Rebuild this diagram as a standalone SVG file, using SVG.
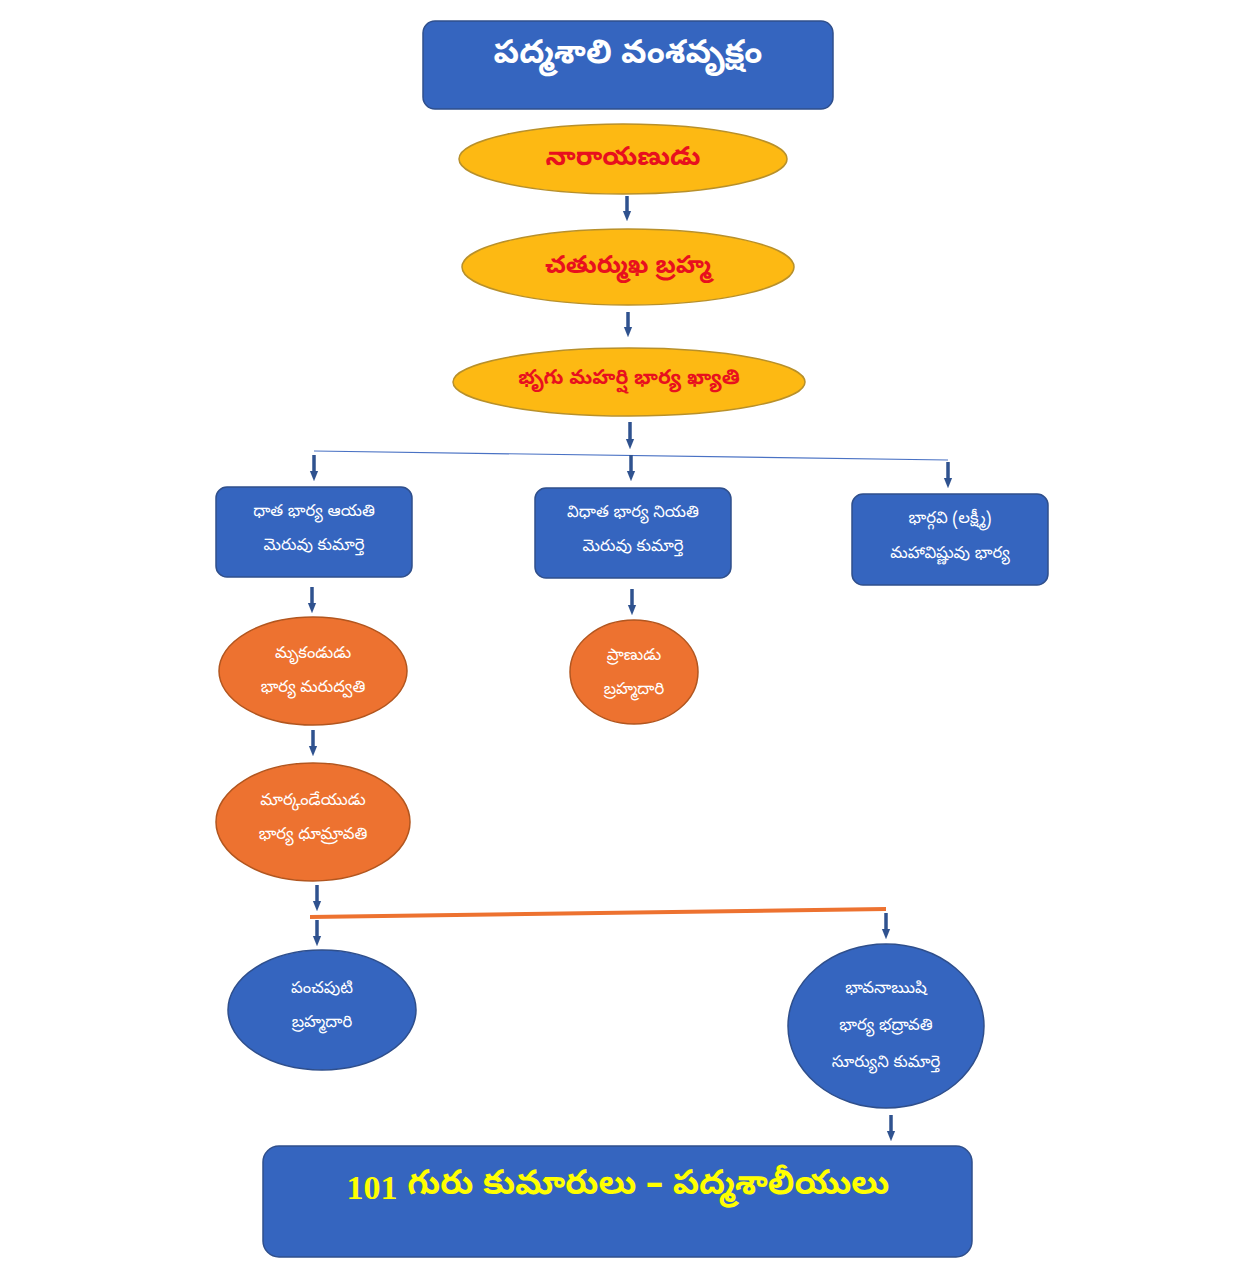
<svg xmlns="http://www.w3.org/2000/svg" width="1258" height="1280" viewBox="0 0 1258 1280">
<defs>
<marker id="ah" viewBox="0 0 10 10" refX="5" refY="5" markerWidth="3" markerHeight="3" orient="auto" markerUnits="strokeWidth">
<path d="M0,1 L10,5 L0,9 z" fill="#2F528F"/>
</marker>
<style>
.t{font-family:"Noto Sans Telugu","Noto Sans",sans-serif;text-anchor:middle;dominant-baseline:central}
.bx{fill:#3565BF;stroke:#2F4F8C;stroke-width:1.5}
.yl{fill:#FDB913;stroke:#B8902A;stroke-width:1.5}
.or{fill:#ED7230;stroke:#B2561F;stroke-width:1.5}
.w{fill:#FFFFFF;font-size:16.5px}
.r{fill:#E8101E;font-weight:bold}
.ar{stroke:#2F528F;stroke-width:3.5;fill:none;marker-end:url(#ah)}
</style>
</defs>
<rect width="1258" height="1280" fill="#FFFFFF"/>
<g id="connectors">
<line class="ar" x1="627" y1="196" x2="627" y2="216"/>
<line class="ar" x1="628" y1="312" x2="628" y2="332"/>
<line class="ar" x1="630" y1="422" x2="630" y2="444"/>
<line x1="314" y1="451" x2="948" y2="460" stroke="#4A72C4" stroke-width="1.2"/>
<line class="ar" x1="314" y1="455" x2="314" y2="476"/>
<line class="ar" x1="631" y1="455" x2="631" y2="476"/>
<line class="ar" x1="948" y1="462" x2="948" y2="483"/>
<line class="ar" x1="312" y1="587" x2="312" y2="608"/>
<line class="ar" x1="632" y1="589" x2="632" y2="610"/>
<line class="ar" x1="313" y1="730" x2="313" y2="751"/>
<line class="ar" x1="317" y1="885" x2="317" y2="906"/>
<line x1="310" y1="917" x2="886" y2="909" stroke="#ED7230" stroke-width="4"/>
<line class="ar" x1="317" y1="920" x2="317" y2="941"/>
<line class="ar" x1="886" y1="913" x2="886" y2="934"/>
<line class="ar" x1="891" y1="1115" x2="891" y2="1136"/>
</g>
<g id="title">
<rect class="bx" x="423" y="21" width="410" height="88" rx="12"/>
<text class="t" x="628" y="56" fill="#FFFFFF" font-size="33" font-weight="bold">పద్మశాలి వంశవృక్షం</text>
</g>
<g id="narayanudu">
<ellipse class="yl" cx="623" cy="159" rx="164" ry="35"/>
<text class="t r" x="623" y="160" font-size="26.5">నారాయణుడు</text>
</g>
<g id="brahma">
<ellipse class="yl" cx="628" cy="267" rx="166" ry="38"/>
<text class="t r" x="628" y="268" font-size="25">చతుర్ముఖ బ్రహ్మ</text>
</g>
<g id="bhrugu">
<ellipse class="yl" cx="629" cy="382" rx="176" ry="34"/>
<text class="t r" x="629" y="380" font-size="20.5">భృగు మహర్షి భార్య ఖ్యాతి</text>
</g>
<g id="dhata">
<rect class="bx" x="216" y="487" width="196" height="90" rx="11"/>
<text class="t w" x="314" y="513">ధాత భార్య ఆయతి</text>
<text class="t w" x="314" y="547">మెరువు కుమార్తె</text>
</g>
<g id="vidhata">
<rect class="bx" x="535" y="488" width="196" height="90" rx="11"/>
<text class="t w" x="633" y="514">విధాత భార్య నియతి</text>
<text class="t w" x="633" y="548">మెరువు కుమార్తె</text>
</g>
<g id="bhargavi">
<rect class="bx" x="852" y="494" width="196" height="91" rx="11"/>
<text class="t w" x="950" y="520">భార్గవి (లక్ష్మీ)</text>
<text class="t w" x="950" y="555">మహావిష్ణువు భార్య</text>
</g>
<g id="mrukandudu">
<ellipse class="or" cx="313" cy="671" rx="94" ry="54"/>
<text class="t w" x="313" y="655">మృకండుడు</text>
<text class="t w" x="313" y="689">భార్య మరుద్వతి</text>
</g>
<g id="pranudu">
<ellipse class="or" cx="634" cy="672" rx="64" ry="52"/>
<text class="t w" x="634" y="657">ప్రాణుడు</text>
<text class="t w" x="634" y="691">బ్రహ్మదారి</text>
</g>
<g id="markandeya">
<ellipse class="or" cx="313" cy="822" rx="97" ry="59"/>
<text class="t w" x="313" y="802">మార్కండేయుడు</text>
<text class="t w" x="313" y="836">భార్య ధూమ్రావతి</text>
</g>
<g id="panchaputi">
<ellipse class="bx" cx="322" cy="1010" rx="94" ry="60"/>
<text class="t w" x="322" y="990">పంచపుటి</text>
<text class="t w" x="322" y="1024">బ్రహ్మదారి</text>
</g>
<g id="bhavana">
<ellipse class="bx" cx="886" cy="1026" rx="98" ry="82"/>
<text class="t w" x="886" y="990">భావనాఋషి</text>
<text class="t w" x="886" y="1027">భార్య భద్రావతి</text>
<text class="t w" x="886" y="1064">సూర్యుని కుమార్తె</text>
</g>
<g id="gurukumarulu">
<rect class="bx" x="263" y="1146" width="709" height="111" rx="16"/>
<text class="t" x="618" y="1187" fill="#FFFF00" font-size="34" font-weight="bold"><tspan font-family="Liberation Serif, serif">101</tspan> గురు కుమారులు – పద్మశాలీయులు</text>
</g>
</svg>
